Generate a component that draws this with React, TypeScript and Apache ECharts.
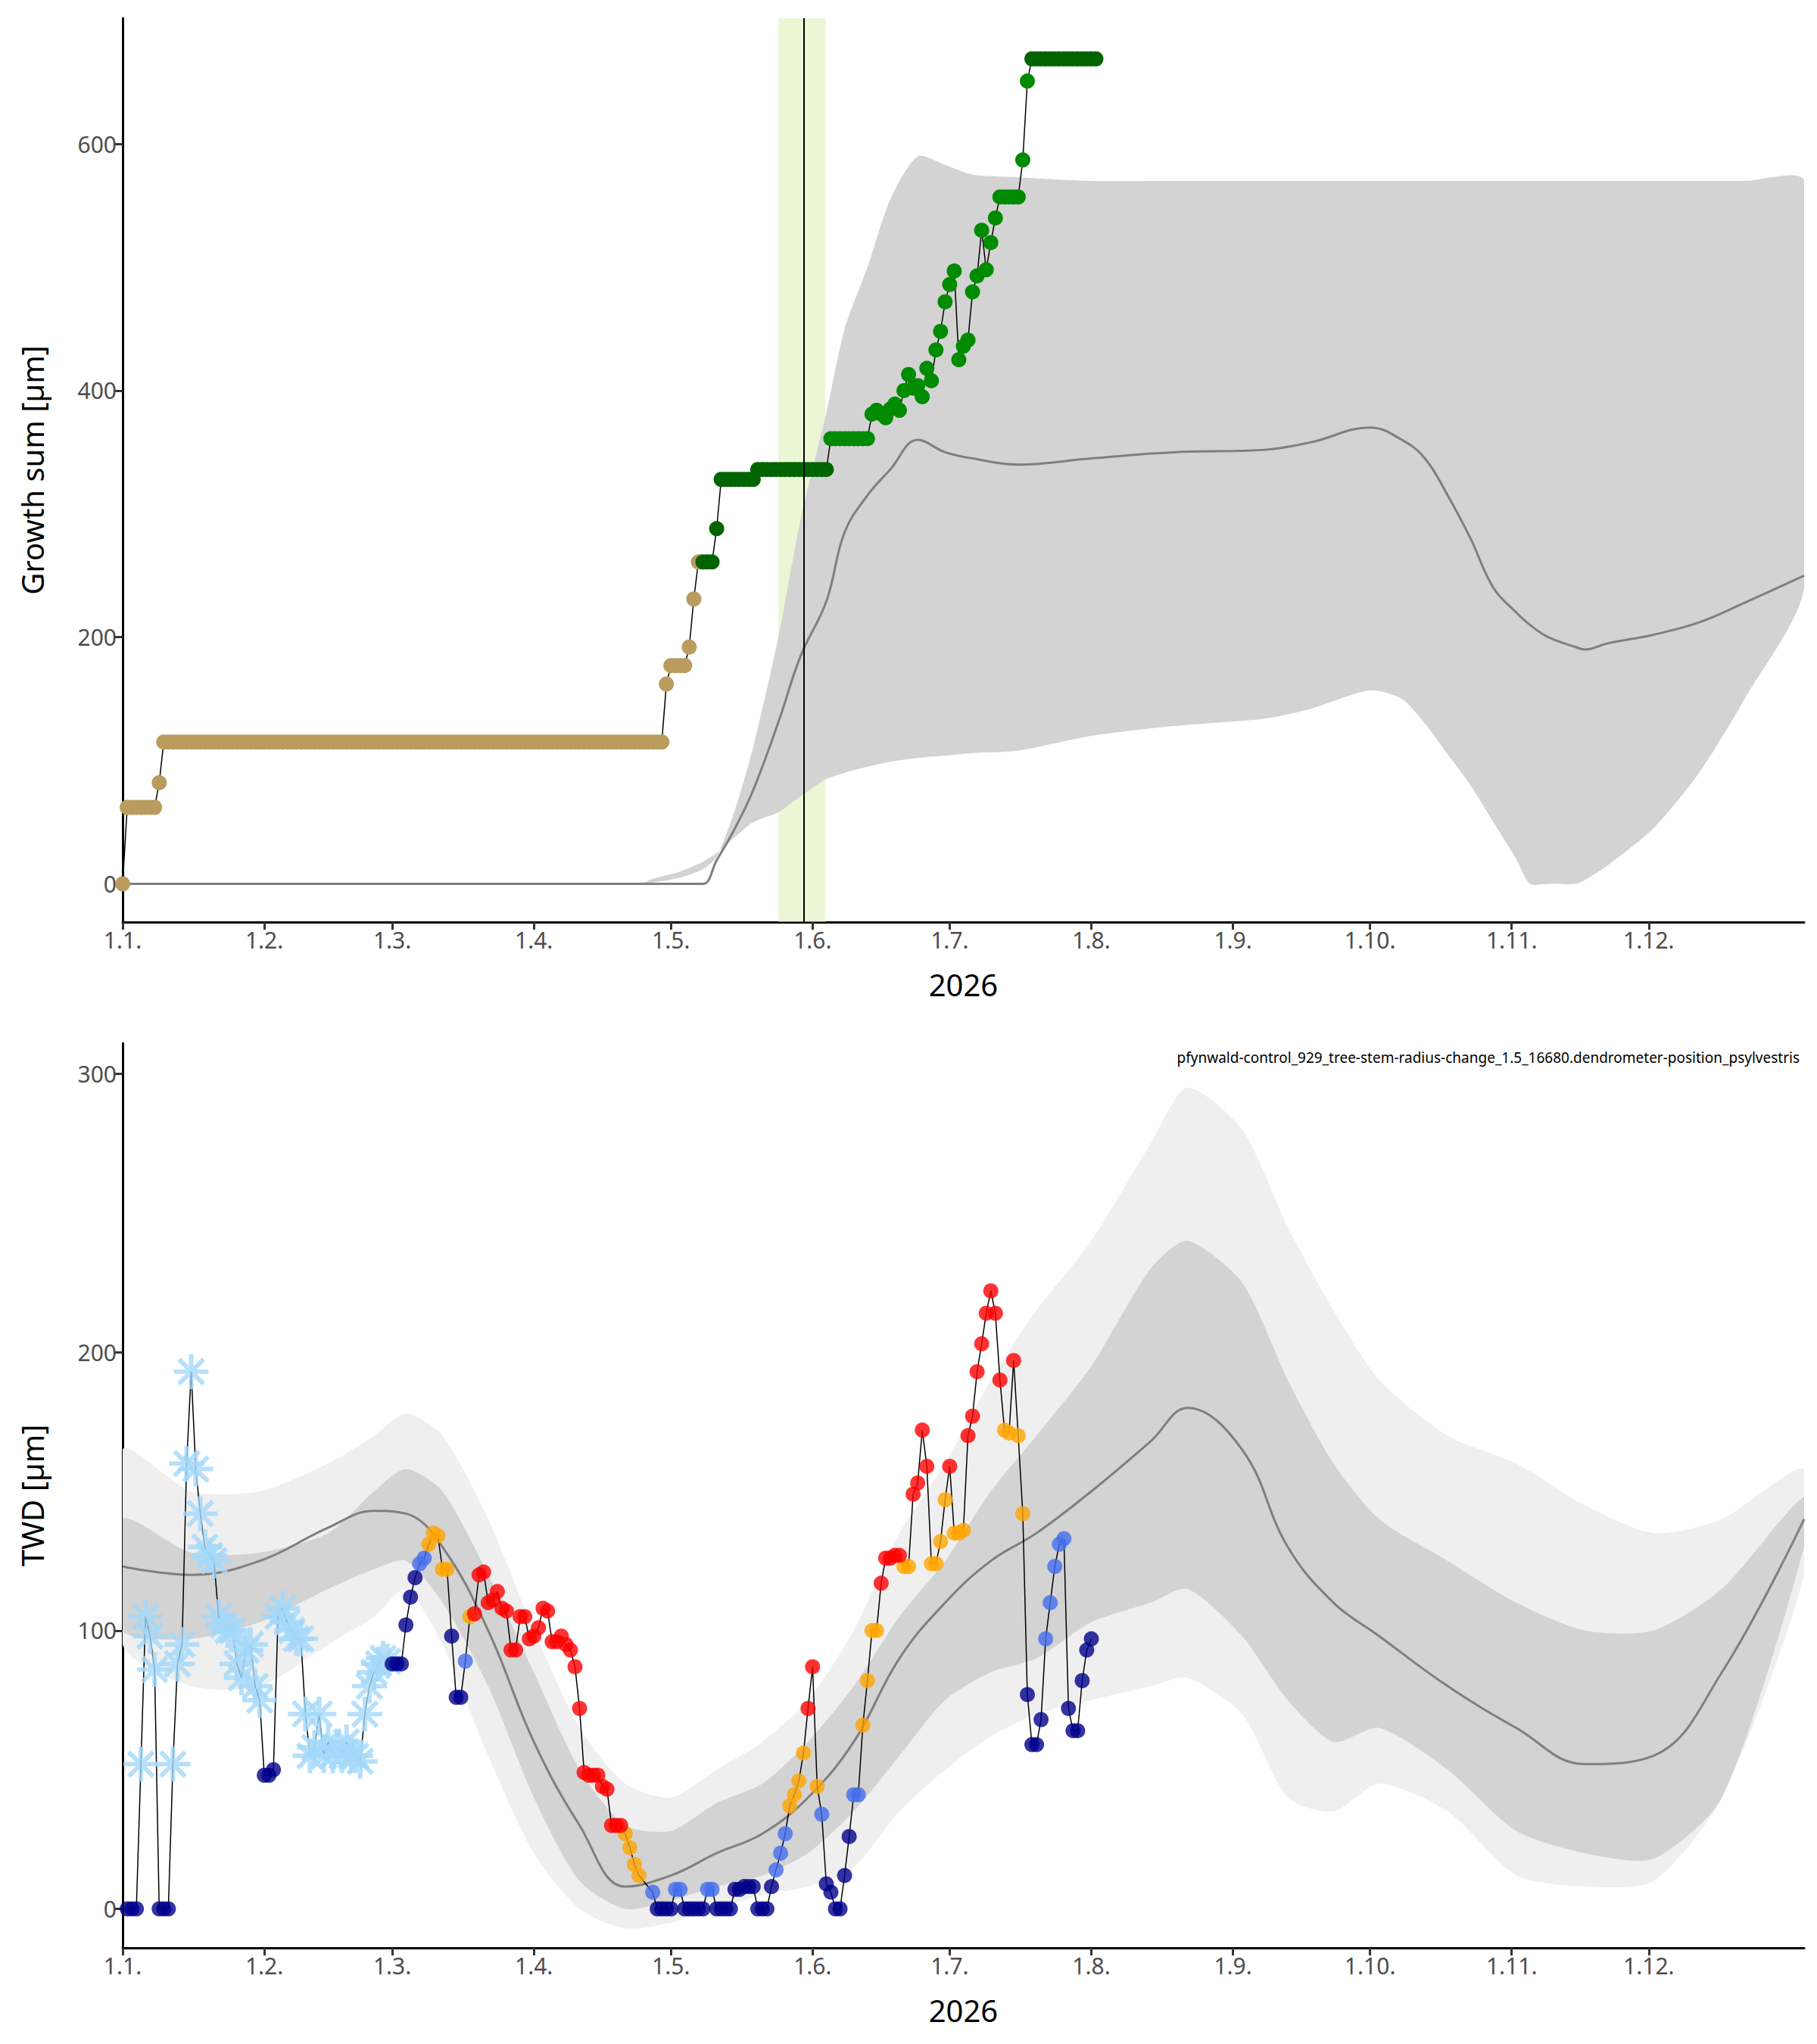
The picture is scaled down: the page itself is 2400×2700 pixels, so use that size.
import { useRef, useEffect } from 'react'
import * as echarts from 'echarts'

// x = day of year 2026 (0 = 1 Jan)
const monthStarts = [0, 31, 59, 90, 120, 151, 181, 212, 243, 273, 304, 334]
const monthLabels = ['1.1.', '1.2.', '1.3.', '1.4.', '1.5.', '1.6.', '1.7.', '1.8.', '1.9.', '1.10.', '1.11.', '1.12.']

// top: growth sum, runs of [firstDay, lastDay, value]
const growthRuns: [number, number, number][] = [
  [0, 0, 0], [1, 7, 62], [8, 8, 82], [9, 118, 115], [119, 119, 162], [120, 123, 177],
  [124, 124, 192], [125, 125, 231], [126, 129, 261], [130, 130, 288], [131, 138, 328],
  [139, 154, 336], [155, 163, 361],
  [164, 164, 381], [165, 165, 384], [166, 166, 381], [167, 167, 378], [168, 168, 385],
  [169, 169, 389], [170, 170, 384], [171, 171, 400], [172, 172, 413], [173, 173, 402],
  [174, 174, 404], [175, 175, 395], [176, 176, 418], [177, 177, 408], [178, 178, 433],
  [179, 179, 448], [180, 180, 472], [181, 181, 486], [182, 182, 497], [183, 183, 425],
  [184, 184, 436], [185, 185, 441], [186, 186, 480], [187, 187, 493], [188, 188, 530],
  [189, 189, 498], [190, 190, 520], [191, 191, 540], [192, 196, 557], [197, 197, 587],
  [198, 198, 651], [199, 213, 669],
]
const tanUntilDay = 126

const growthBandDays = [0, 113, 116, 122, 127, 130, 134, 138, 143.5, 148.4, 154, 158, 163, 168, 174, 180, 186, 196, 212, 230, 250, 260, 273, 280, 285, 290, 295, 300, 305, 308, 312, 318, 320, 325, 335, 345, 355, 368]
const growthUpper = [0, 0, 1, 5, 12, 22, 60, 111, 200, 296, 382, 450, 500, 555, 590, 583, 575, 573, 570, 570, 570, 570, 570, 570, 570, 570, 570, 570, 570, 570, 570, 570, 570, 570, 570, 570, 570, 570]
const growthLower = [0, 0, 4, 10, 18, 25, 38, 50, 58, 71, 85, 90, 95, 99, 102, 104, 106, 108, 120, 128, 134, 142, 157, 150, 130, 105, 80, 50, 20, 0, 0, 0, 3, 15, 45, 90, 150, 240]
const growthMedian = [0, 0, 0, 0, 0, 19, 45, 76, 131, 185, 229, 285, 315, 336, 360, 350, 345, 340, 345, 350, 352, 358, 370, 360, 345, 315, 280, 240, 220, 210, 200, 192, 190, 195, 202, 212, 228, 250]

// bottom: TWD points [day, value, class]  s=frost n=navy b=blue r=red o=orange
const twdPoints: [number, number, string][] = [
  [1, 0, 'n'], [2, 0, 'n'], [3, 0, 'n'], [4, 52, 's'], [5, 105, 's'], [6, 98, 's'], [7, 86, 's'],
  [8, 0, 'n'], [9, 0, 'n'], [10, 0, 'n'], [11, 52, 's'], [12, 88, 's'], [13, 95, 's'], [14, 160, 's'],
  [15, 193, 's'], [16, 158, 's'], [17, 142, 's'], [18, 130, 's'], [19, 127, 's'], [20, 125, 's'],
  [21, 105, 's'], [22, 102, 's'], [23, 100, 's'], [24, 100, 's'], [25, 88, 's'], [26, 83, 's'],
  [27, 93, 's'], [28, 95, 's'], [29, 80, 's'], [30, 75, 's'], [31, 48, 'n'], [32, 48, 'n'], [33, 50, 'n'],
  [34, 105, 's'], [35, 108, 's'], [36, 103, 's'], [37, 100, 's'], [38, 97, 's'], [39, 97, 's'],
  [40, 70, 's'], [41, 55, 's'], [42, 58, 's'], [43, 70, 's'], [44, 55, 's'], [45, 60, 's'], [46, 55, 's'],
  [47, 58, 's'], [48, 55, 's'], [49, 60, 's'], [50, 55, 's'], [51, 55, 's'], [52, 53, 's'], [53, 70, 's'],
  [54, 80, 's'], [55, 85, 's'], [56, 88, 's'], [57, 90, 's'], [58, 89, 's'], [59, 88, 'n'], [60, 88, 'n'],
  [61, 88, 'n'], [62, 102, 'n'], [63, 112, 'n'], [64, 119, 'n'], [65, 124, 'b'], [66, 126, 'b'],
  [67, 131, 'o'], [68, 135, 'o'], [69, 134, 'o'], [70, 122, 'o'], [71, 122, 'o'], [72, 98, 'n'],
  [73, 76, 'n'], [74, 76, 'n'], [75, 89, 'b'], [76, 105, 'o'], [77, 106, 'r'], [78, 120, 'r'],
  [79, 121, 'r'], [80, 110, 'r'], [81, 111, 'r'], [82, 114, 'r'], [83, 108, 'r'], [84, 107, 'r'],
  [85, 93, 'r'], [86, 93, 'r'], [87, 105, 'r'], [88, 105, 'r'], [89, 97, 'r'], [90, 98, 'r'],
  [91, 101, 'r'], [92, 108, 'r'], [93, 107, 'r'], [94, 96, 'r'], [95, 96, 'r'], [96, 98, 'r'],
  [97, 95, 'r'], [98, 93, 'r'], [99, 87, 'r'], [100, 72, 'r'], [101, 49, 'r'], [102, 48, 'r'],
  [103, 48, 'r'], [104, 48, 'r'], [105, 44, 'r'], [106, 43, 'r'], [107, 30, 'r'], [108, 30, 'r'],
  [109, 30, 'r'], [110, 27, 'o'], [111, 22, 'o'], [112, 16, 'o'], [113, 12, 'o'], [116, 6, 'b'],
  [117, 0, 'n'], [118, 0, 'n'], [119, 0, 'n'], [120, 0, 'n'], [121, 7, 'b'], [122, 7, 'b'],
  [123, 0, 'n'], [124, 0, 'n'], [125, 0, 'n'], [126, 0, 'n'], [127, 0, 'n'], [128, 7, 'b'], [129, 7, 'b'],
  [130, 0, 'n'], [131, 0, 'n'], [132, 0, 'n'], [133, 0, 'n'], [134, 7, 'n'], [135, 7, 'n'], [136, 8, 'n'],
  [137, 8, 'n'], [138, 8, 'n'], [139, 0, 'n'], [140, 0, 'n'], [141, 0, 'n'], [142, 8, 'n'], [143, 14, 'b'],
  [144, 20, 'b'], [145, 27, 'b'], [146, 37, 'o'], [147, 41, 'o'], [148, 46, 'o'], [149, 56, 'o'],
  [150, 72, 'r'], [151, 87, 'r'], [152, 44, 'o'], [153, 34, 'b'], [154, 9, 'n'], [155, 6, 'n'],
  [156, 0, 'n'], [157, 0, 'n'], [158, 12, 'n'], [159, 26, 'n'], [160, 41, 'b'], [161, 41, 'b'],
  [162, 66, 'o'], [163, 82, 'o'], [164, 100, 'o'], [165, 100, 'o'], [166, 117, 'r'], [167, 126, 'r'],
  [168, 126, 'r'], [169, 127, 'r'], [170, 127, 'r'], [171, 123, 'o'], [172, 123, 'o'], [173, 149, 'r'],
  [174, 153, 'r'], [175, 172, 'r'], [176, 159, 'r'], [177, 124, 'o'], [178, 124, 'o'], [179, 132, 'o'],
  [180, 147, 'o'], [181, 159, 'r'], [182, 135, 'o'], [183, 135, 'o'], [184, 136, 'o'], [185, 170, 'r'],
  [186, 177, 'r'], [187, 193, 'r'], [188, 203, 'r'], [189, 214, 'r'], [190, 222, 'r'], [191, 214, 'r'],
  [192, 190, 'r'], [193, 172, 'o'], [194, 171, 'o'], [195, 197, 'r'], [196, 170, 'o'], [197, 142, 'o'],
  [198, 77, 'n'], [199, 59, 'n'], [200, 59, 'n'], [201, 68, 'n'], [202, 97, 'b'], [203, 110, 'b'],
  [204, 123, 'b'], [205, 131, 'b'], [206, 133, 'b'], [207, 72, 'n'], [208, 64, 'n'], [209, 64, 'n'],
  [210, 82, 'n'], [211, 93, 'n'], [212, 97, 'n'],
]

const twdBandDays = [0, 15, 30, 45, 55, 62, 70, 80, 90, 100, 110, 120, 130, 140, 150, 160, 170, 180, 190, 200, 212, 225, 233, 245, 255, 265, 275, 290, 305, 320, 335, 350, 368]
const twdOuterUpper = [165, 150, 150, 160, 170, 178, 170, 140, 100, 65, 45, 40, 50, 60, 75, 100, 135, 160, 190, 215, 240, 275, 295, 280, 245, 215, 190, 170, 160, 145, 135, 140, 158]
const twdInnerUpper = [140, 128, 128, 135, 150, 158, 150, 120, 85, 50, 30, 28, 38, 45, 60, 80, 105, 125, 150, 170, 195, 230, 240, 225, 190, 160, 140, 125, 110, 100, 100, 115, 148]
const twdMedian = [123, 120, 125, 137, 143, 142, 130, 100, 60, 30, 8, 12, 20, 27, 40, 60, 90, 110, 125, 135, 150, 168, 180, 165, 130, 110, 98, 80, 65, 52, 55, 85, 140]
const twdInnerLower = [100, 97, 103, 115, 122, 125, 110, 80, 40, 10, 0, 3, 8, 12, 20, 35, 55, 75, 85, 90, 103, 110, 115, 98, 75, 60, 65, 50, 28, 20, 18, 40, 130]
const twdOuterLower = [95, 80, 80, 95, 105, 115, 95, 55, 20, 0, -7, -5, 0, 5, 8, 15, 35, 50, 62, 70, 75, 80, 83, 70, 40, 35, 45, 35, 12, 8, 10, 40, 120]

const seriesTitle = 'pfynwald-control_929_tree-stem-radius-change_1.5_16680.dendrometer-position_psylvestris'

const classColors: Record<string, string> = { n: '#00008b', b: '#436eee', r: '#ff0000', o: '#ffa500', s: '#a4d8fa' }

// eight-spoke asterisk symbol
function starPath() {
  const w = 0.13
  let d = ''
  for (let k = 0; k < 4; k++) {
    const a = (k * Math.PI) / 4
    const c = Math.cos(a), s = Math.sin(a)
    const pts = [[-1, -w], [1, -w], [1, w], [-1, w]].map(([x, y]) => [x * c - y * s, x * s + y * c])
    d += 'M' + pts.map((p) => p[0].toFixed(3) + ' ' + p[1].toFixed(3)).join(' L') + ' Z '
  }
  return 'path://' + d
}

const FONT = '"Noto Sans", "Open Sans", sans-serif'

export default function App() {
  const chartRef = useRef<HTMLDivElement>(null)

  useEffect(() => {
    if (!chartRef.current) return
    const chart = echarts.init(chartRef.current, undefined, { renderer: 'svg' })

    const growth: [number, number][] = []
    growthRuns.forEach(([a, b, v]) => {
      for (let d = a; d <= b; d++) growth.push([d, v])
    })
    const growthColor = (d: number) =>
      d <= tanUntilDay ? '#b99c5e' : d >= 155 && d < 199 ? '#008b00' : '#006400'

    const pair = (days: number[], vals: number[]) => days.map((d, i) => [d, vals[i]])

    const xAxisBase = (gridIndex: number) => ({
      type: 'value' as const,
      gridIndex,
      min: 0,
      max: 368,
      name: '2026',
      nameLocation: 'middle' as const,
      nameGap: 62,
      nameTextStyle: { fontSize: 40, color: '#000', fontFamily: FONT },
      axisLine: { onZero: false, lineStyle: { color: '#000', width: 3 } },
      axisTick: { customValues: monthStarts, length: 10, lineStyle: { color: '#333', width: 3 } },
      axisLabel: {
        customValues: monthStarts,
        fontSize: 30,
        color: '#4d4d4d',
        fontFamily: FONT,
        formatter: (v: number) => monthLabels[monthStarts.indexOf(v)] ?? '',
      },
      splitLine: { show: false },
    })
    const yAxisBase = (gridIndex: number, min: number, max: number, ticks: number[], name: string) => ({
      type: 'value' as const,
      gridIndex,
      min,
      max,
      name,
      nameLocation: 'middle' as const,
      nameGap: 100,
      nameTextStyle: { fontSize: 40, color: '#000', fontFamily: FONT },
      axisLine: { show: true, lineStyle: { color: '#000', width: 3 } },
      axisTick: { show: true, customValues: ticks, length: 10, lineStyle: { color: '#333', width: 3 } },
      axisLabel: { customValues: ticks, fontSize: 30, color: '#4d4d4d', fontFamily: FONT },
      splitLine: { show: false },
    })

    // filled band between lower and upper, drawn as one smoothed polygon
    const band = (ax: number, days: number[], lo: number[], hi: number[], color: string, z: number) => ({
      type: 'custom' as const,
      xAxisIndex: ax,
      yAxisIndex: ax,
      data: days.map((d, i) => [d, lo[i], hi[i]]),
      silent: true,
      clip: true,
      z,
      renderItem: (params: any, api: any) => {
        if (params.dataIndex !== 0) return null
        const top = days.map((d, i) => api.coord([d, hi[i]]))
        const bot = days.map((d, i) => api.coord([d, lo[i]])).reverse()
        const cs = params.coordSys
        return {
          type: 'polygon',
          shape: { points: top.concat(bot), smooth: 0.25 },
          style: { fill: color },
          clipPath: { type: 'rect', shape: { x: cs.x, y: cs.y, width: cs.width, height: cs.height } },
        }
      },
    })

    const scatterFor = (cls: string) => ({
      type: 'scatter' as const,
      xAxisIndex: 1,
      yAxisIndex: 1,
      data: twdPoints.filter((p) => p[2] === cls).map((p) => [p[0], p[1]]),
      symbol: cls === 's' ? starPath() : 'circle',
      symbolSize: cls === 's' ? 46 : 20,
      itemStyle: { color: classColors[cls] },
      z: 4,
    })

    chart.setOption({
      animation: false,
      backgroundColor: '#fff',
      title: {
        text: seriesTitle,
        right: 10,
        top: 1374,
        textStyle: { fontSize: 19, fontWeight: 'normal', color: '#000', fontFamily: FONT },
      },
      grid: [
        { left: 154, right: 9, top: 16, height: 1194 },
        { left: 154, right: 9, top: 1370, height: 1195 },
      ],
      xAxis: [xAxisBase(0), xAxisBase(1)],
      yAxis: [
        yAxisBase(0, -31, 702, [0, 200, 400, 600], 'Growth sum [µm]'),
        yAxisBase(1, -14, 311, [0, 100, 200, 300], 'TWD [µm]'),
      ],
      series: [
        band(0, growthBandDays, growthLower, growthUpper, '#d3d3d3', 1),
        {
          type: 'line',
          xAxisIndex: 0,
          yAxisIndex: 0,
          data: pair(growthBandDays, growthMedian),
          symbol: 'none',
          smooth: 0.4,
          lineStyle: { color: '#7f7f7f', width: 3 },
          z: 2,
          markArea: {
            silent: true,
            itemStyle: { color: 'rgba(215,240,170,0.5)' },
            data: [[{ xAxis: 143.5 }, { xAxis: 153.8 }]],
          },
          markLine: {
            silent: true,
            symbol: 'none',
            label: { show: false },
            lineStyle: { color: '#000', width: 2, type: 'solid' },
            data: [{ xAxis: 149 }],
          },
        },
        {
          type: 'line',
          xAxisIndex: 0,
          yAxisIndex: 0,
          data: growth.map(([d, v]) => ({ value: [d, v], itemStyle: { color: growthColor(d) } })),
          symbol: 'circle',
          symbolSize: 20,
          showAllSymbol: true,
          lineStyle: { color: '#000', width: 1.5 },
          z: 3,
        },
        band(1, twdBandDays, twdOuterLower, twdOuterUpper, '#efefef', 1),
        band(1, twdBandDays, twdInnerLower, twdInnerUpper, '#d3d3d3', 1),
        {
          type: 'line',
          xAxisIndex: 1,
          yAxisIndex: 1,
          data: pair(twdBandDays, twdMedian),
          symbol: 'none',
          smooth: 0.4,
          lineStyle: { color: '#7f7f7f', width: 3 },
          z: 2,
        },
        {
          type: 'line',
          xAxisIndex: 1,
          yAxisIndex: 1,
          data: twdPoints.map((p) => [p[0], p[1]]),
          symbol: 'none',
          lineStyle: { color: '#000', width: 1.5 },
          z: 3,
        },
        scatterFor('s'),
        scatterFor('n'),
        scatterFor('b'),
        scatterFor('o'),
        scatterFor('r'),
      ],
    })

    return () => chart.dispose()
  }, [])

  return <div ref={chartRef} style={{ width: 2384, height: 2684 }} />
}
